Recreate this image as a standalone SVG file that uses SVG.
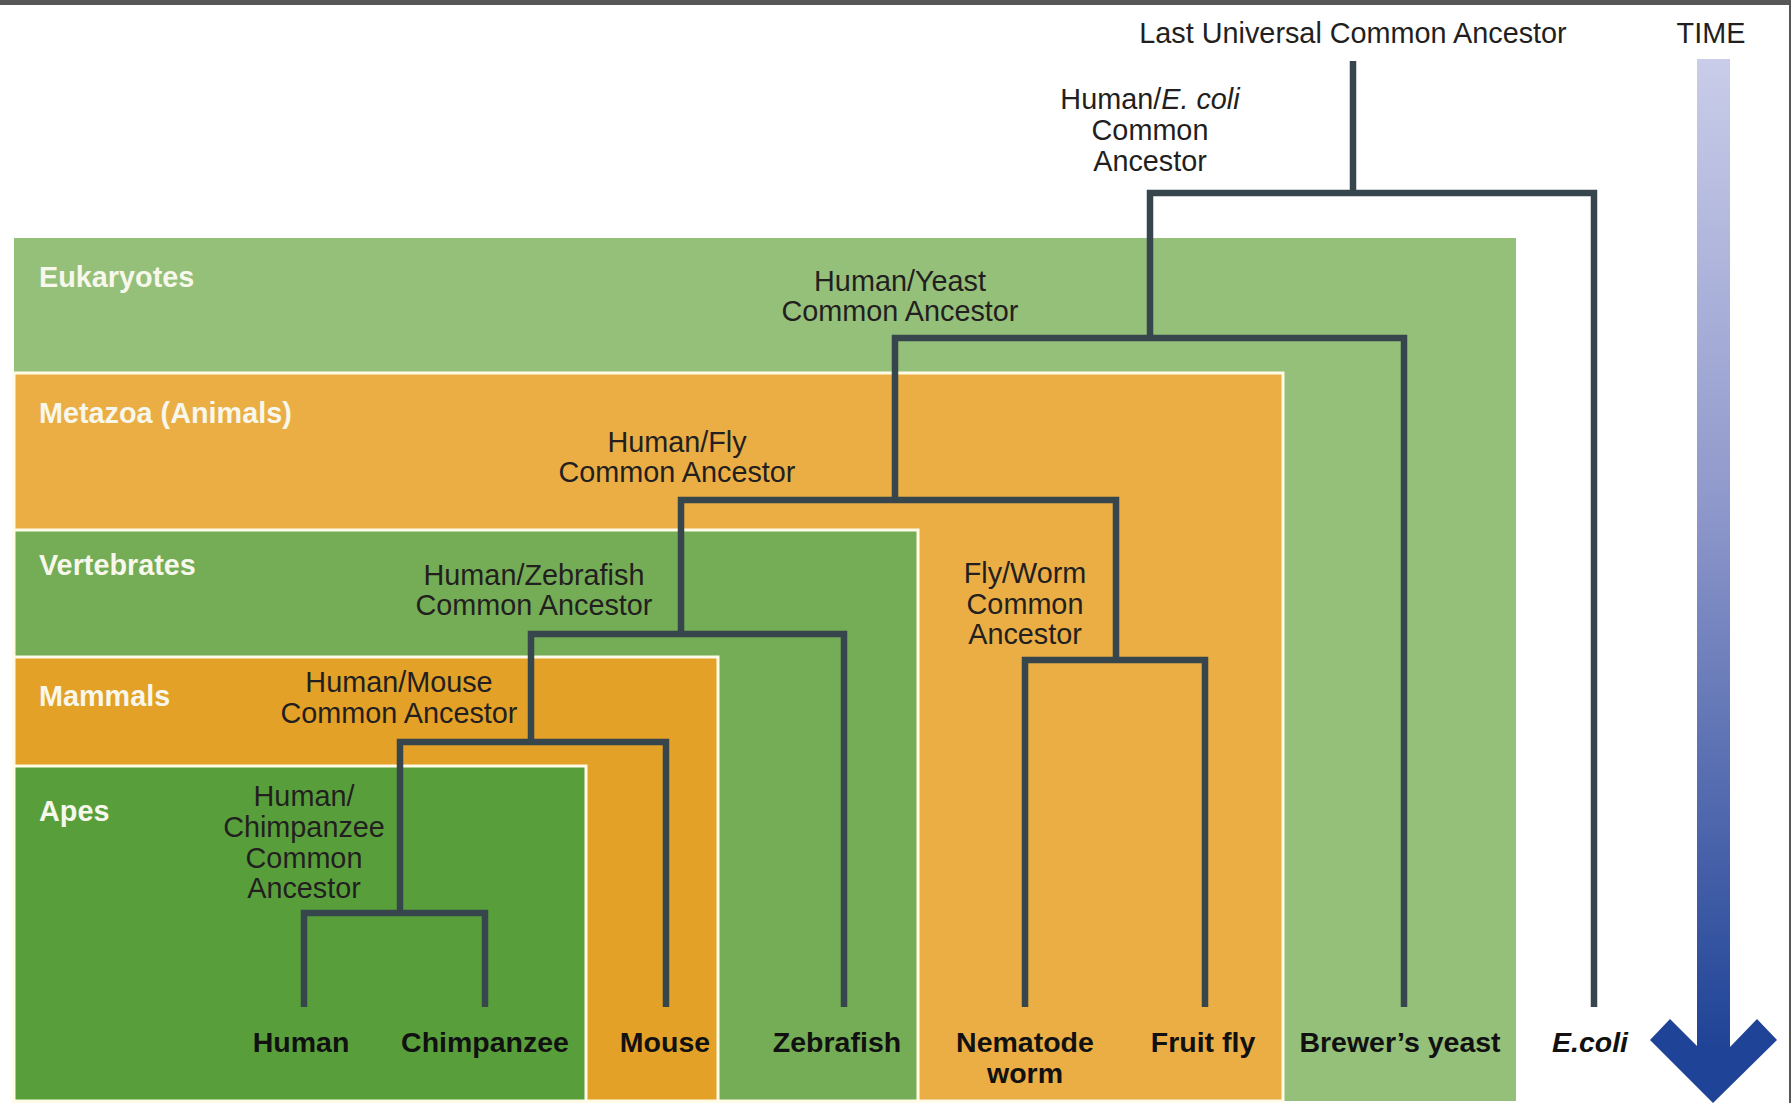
<svg xmlns="http://www.w3.org/2000/svg" width="1791" height="1103" viewBox="0 0 1791 1103">
<defs>
<linearGradient id="timeGrad" x1="0" y1="0" x2="0" y2="1">
<stop offset="0" stop-color="#c9cde9"/>
<stop offset="0.45" stop-color="#8f98cb"/>
<stop offset="1" stop-color="#1f4396"/>
</linearGradient>
</defs>
<style>
.grp { stroke: #fffbe6; stroke-width: 3; }
.glabel { font-family: "Liberation Sans", Arial, sans-serif; font-weight: bold; font-size: 28.8px; fill: #f7f7ec; }
.nlabel { font-family: "Liberation Sans", Arial, sans-serif; font-size: 28.8px; fill: #231f20; text-anchor: middle; }
.leaf { font-family: "Liberation Sans", Arial, sans-serif; font-weight: bold; font-size: 28.5px; fill: #111111; text-anchor: middle; }
.edge { fill: none; stroke: #36464c; stroke-width: 6.5; stroke-linejoin: miter; stroke-linecap: butt; }
</style>
<rect x="0" y="0" width="1791" height="1103" fill="#ffffff"/>
<rect x="0" y="0" width="1791" height="5" fill="#575757"/>
<rect x="1789" y="0" width="2" height="1103" fill="#575757"/>

<g id="eukaryotes">
<rect x="14" y="238" width="1502" height="863" fill="#95c07a"/>
<text class="glabel" x="39" y="287">Eukaryotes</text>
</g>
<g id="metazoa">
<rect class="grp" x="14" y="373" width="1269" height="728" fill="#eaae45"/>
<text class="glabel" x="39" y="423">Metazoa (Animals)</text>
</g>
<g id="vertebrates">
<rect class="grp" x="14" y="530" width="904" height="571" fill="#74ad55"/>
<text class="glabel" x="39" y="575">Vertebrates</text>
</g>
<g id="mammals">
<rect class="grp" x="14" y="657" width="704" height="444" fill="#e3a128"/>
<text class="glabel" x="39" y="706">Mammals</text>
</g>
<g id="apes">
<rect class="grp" x="14" y="766" width="572" height="335" fill="#589f3b"/>
<text class="glabel" x="39" y="821">Apes</text>
</g>

<g id="connectors">
<path class="edge" d="M1353 61 V193"/>
<path class="edge" d="M1150 338 V193 H1594 V1007"/>
<path class="edge" d="M895 500 V338 H1404 V1007"/>
<path class="edge" d="M681 634 V500 H1116 V660"/>
<path class="edge" d="M1025 1007 V660 H1205 V1007"/>
<path class="edge" d="M531 742 V634 H844 V1007"/>
<path class="edge" d="M400 913 V742 H666 V1007"/>
<path class="edge" d="M304 1007 V913 H485 V1007"/>
</g>

<g id="luca">
<text class="nlabel" x="1353" y="43">Last Universal Common Ancestor</text>
</g>
<g id="human-ecoli">
<text class="nlabel" x="1150" y="109">Human/<tspan font-style="italic">E. coli</tspan></text>
<text class="nlabel" x="1150" y="140">Common</text>
<text class="nlabel" x="1150" y="171">Ancestor</text>
</g>
<g id="human-yeast">
<text class="nlabel" x="900" y="291">Human/Yeast</text>
<text class="nlabel" x="900" y="321">Common Ancestor</text>
</g>
<g id="human-fly">
<text class="nlabel" x="677" y="452">Human/Fly</text>
<text class="nlabel" x="677" y="482">Common Ancestor</text>
</g>
<g id="fly-worm">
<text class="nlabel" x="1025" y="583">Fly/Worm</text>
<text class="nlabel" x="1025" y="614">Common</text>
<text class="nlabel" x="1025" y="644">Ancestor</text>
</g>
<g id="human-zebrafish">
<text class="nlabel" x="534" y="585">Human/Zebrafish</text>
<text class="nlabel" x="534" y="615">Common Ancestor</text>
</g>
<g id="human-mouse">
<text class="nlabel" x="399" y="692">Human/Mouse</text>
<text class="nlabel" x="399" y="723">Common Ancestor</text>
</g>
<g id="human-chimp">
<text class="nlabel" x="304" y="806">Human/</text>
<text class="nlabel" x="304" y="837">Chimpanzee</text>
<text class="nlabel" x="304" y="868">Common</text>
<text class="nlabel" x="304" y="898">Ancestor</text>
</g>

<g id="leaf-human"><text class="leaf" x="301" y="1052">Human</text></g>
<g id="leaf-chimpanzee"><text class="leaf" x="485" y="1052">Chimpanzee</text></g>
<g id="leaf-mouse"><text class="leaf" x="665" y="1052">Mouse</text></g>
<g id="leaf-zebrafish"><text class="leaf" x="837" y="1052">Zebrafish</text></g>
<g id="leaf-nematode"><text class="leaf" x="1025" y="1052">Nematode</text><text class="leaf" x="1025" y="1083">worm</text></g>
<g id="leaf-fruitfly"><text class="leaf" x="1203" y="1052">Fruit fly</text></g>
<g id="leaf-yeast"><text class="leaf" x="1400" y="1052">Brewer’s yeast</text></g>
<g id="leaf-ecoli"><text class="leaf" x="1590" y="1052" font-style="italic">E.coli</text></g>

<g id="time">
<text class="nlabel" x="1711" y="43">TIME</text>
<rect x="1697" y="59" width="33" height="990" fill="url(#timeGrad)"/>
<polygon points="1650,1040 1670,1019 1698,1047 1730,1047 1757,1019 1777,1040 1713,1103" fill="#1f4396"/>
</g>
</svg>
